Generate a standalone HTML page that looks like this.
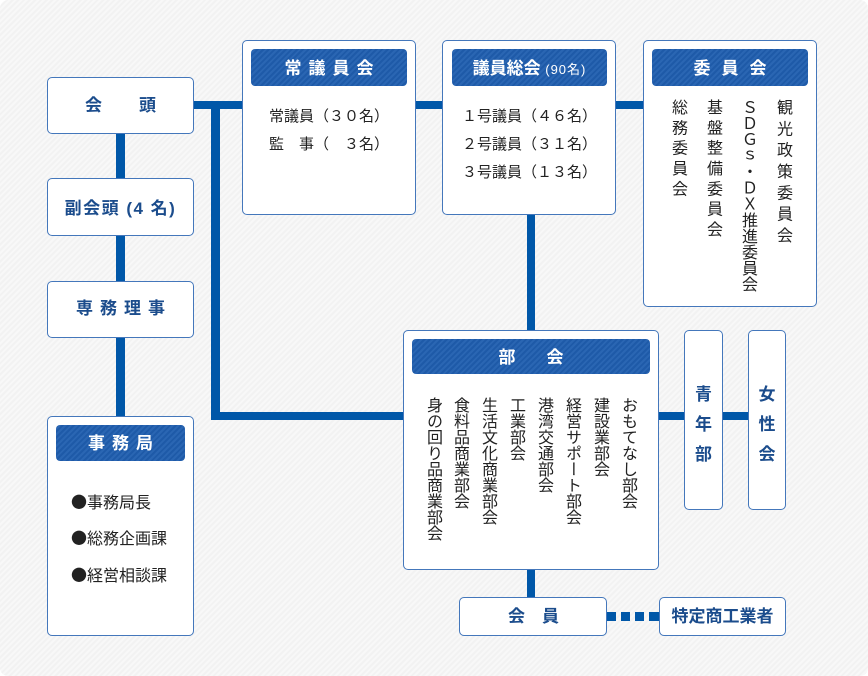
<!DOCTYPE html>
<html><head><meta charset="utf-8">
<style>
html,body{margin:0;padding:0;}
body{width:868px;height:676px;background:#fff;position:relative;overflow:hidden;font-family:"Liberation Sans","Noto Sans CJK JP",sans-serif;}
#bg{position:absolute;left:0;top:0;width:868px;height:676px;border-radius:8px;
background:repeating-linear-gradient(135deg,#f2f2f2 0px,#f2f2f2 2px,#f8f8f8 2px,#f8f8f8 4px);}
.box{position:absolute;box-sizing:border-box;background:#fff;border:1.5px solid #4477bb;border-radius:5px;}
.hd{position:absolute;box-sizing:border-box;border-radius:4px;color:#fff;font-weight:bold;font-size:17px;text-align:center;
background:repeating-linear-gradient(135deg,#1e5aa8 0px,#1e5aa8 2px,#2a66b3 2px,#2a66b3 4px);}
.ln{position:absolute;background:#0057a8;}
.bt{position:absolute;color:#1b4c8c;font-weight:bold;font-size:17px;text-align:center;white-space:nowrap;}
.tx{position:absolute;color:#222;font-size:15px;white-space:nowrap;}
.bl{font-family:"Noto Sans CJK JP",sans-serif;font-size:16px;}
.v{position:absolute;writing-mode:vertical-rl;text-orientation:upright;font-size:16px;line-height:16px;color:#222;white-space:nowrap;}
</style></head><body>
<div id="bg"></div>

<!-- connectors -->
<div class="ln" style="left:116px;top:134px;width:9px;height:44px"></div>
<div class="ln" style="left:116px;top:236px;width:9px;height:45px"></div>
<div class="ln" style="left:116px;top:338px;width:9px;height:78px"></div>
<div class="ln" style="left:194px;top:101px;width:48px;height:8px"></div>
<div class="ln" style="left:211px;top:101px;width:9px;height:319px"></div>
<div class="ln" style="left:211px;top:412px;width:192px;height:8px"></div>
<div class="ln" style="left:416px;top:101px;width:26px;height:8px"></div>
<div class="ln" style="left:616px;top:101px;width:27px;height:8px"></div>
<div class="ln" style="left:527px;top:215px;width:8px;height:115px"></div>
<div class="ln" style="left:527px;top:570px;width:8px;height:27px"></div>
<div class="ln" style="left:659px;top:412px;width:25px;height:8px"></div>
<div class="ln" style="left:723px;top:412px;width:25px;height:8px"></div>
<div class="ln" style="left:607px;top:612px;width:9px;height:9px"></div>
<div class="ln" style="left:621px;top:612px;width:9px;height:9px"></div>
<div class="ln" style="left:635px;top:612px;width:9px;height:9px"></div>
<div class="ln" style="left:649px;top:612px;width:10px;height:9px"></div>

<!-- left column -->
<div class="box" style="left:47px;top:77px;width:147px;height:57px"></div>
<div class="bt" style="left:85px;top:95px;width:17px;line-height:22px">会</div>
<div class="bt" style="left:139px;top:95px;width:17px;line-height:22px">頭</div>

<div class="box" style="left:47px;top:178px;width:147px;height:58px"></div>
<div class="bt" style="left:47px;top:197px;width:147px;line-height:24px;letter-spacing:1.5px">副会頭 (4 名)</div>

<div class="box" style="left:47px;top:281px;width:147px;height:57px"></div>
<div class="bt" style="left:47px;top:297px;width:147px;line-height:24px;letter-spacing:7px;padding-left:7px;box-sizing:border-box">専務理事</div>

<div class="box" style="left:47px;top:416px;width:147px;height:220px"></div>
<div class="hd" style="left:56px;top:425px;width:129px;height:36px;line-height:38px;letter-spacing:7px;padding-left:7px">事務局</div>
<div class="tx" style="left:71px;top:489px;font-size:16px;line-height:24px"><span class="bl">●</span>事務局長</div>
<div class="tx" style="left:71px;top:525px;font-size:16px;line-height:24px"><span class="bl">●</span>総務企画課</div>
<div class="tx" style="left:71px;top:562px;font-size:16px;line-height:24px"><span class="bl">●</span>経営相談課</div>

<!-- 常議員会 -->
<div class="box" style="left:242px;top:40px;width:174px;height:175px"></div>
<div class="hd" style="left:251px;top:49px;width:156px;height:37px;line-height:40px;letter-spacing:7px;padding-left:7px">常議員会</div>
<div class="tx" style="left:269px;top:105px;line-height:24px">常議員（３０名）</div>
<div class="tx" style="left:269px;top:133px;line-height:24px">監　事（　３名）</div>

<!-- 議員総会 -->
<div class="box" style="left:442px;top:40px;width:174px;height:175px"></div>
<div class="hd" style="left:452px;top:49px;width:155px;height:37px;line-height:40px">議員総会<span style="font-size:13px;font-weight:normal;letter-spacing:1px"> (90名)</span></div>
<div class="tx" style="left:462px;top:105px;line-height:24px">１号議員（４６名）</div>
<div class="tx" style="left:462px;top:133px;line-height:24px">２号議員（３１名）</div>
<div class="tx" style="left:462px;top:161px;line-height:24px">３号議員（１３名）</div>

<!-- 委員会 -->
<div class="box" style="left:643px;top:40px;width:174px;height:267px"></div>
<div class="hd" style="left:652px;top:49px;width:156px;height:37px;line-height:40px;letter-spacing:11px;padding-left:11px">委員会</div>
<div class="v" style="left:669px;top:99px;letter-spacing:4.3px">総務委員会</div>
<div class="v" style="left:704px;top:99px;letter-spacing:4.3px">基盤整備委員会</div>
<div class="v" style="left:739px;top:99px;letter-spacing:0.1px">ＳＤＧｓ・ＤＸ推進委員会</div>
<div class="v" style="left:774px;top:99px;letter-spacing:5.3px">観光政策委員会</div>

<!-- 部会 -->
<div class="box" style="left:403px;top:330px;width:256px;height:240px"></div>
<div class="hd" style="left:412px;top:339px;width:238px;height:35px;line-height:37px;letter-spacing:31px;padding-left:31px">部会</div>
<div class="v" style="left:619px;top:397px">おもてなし部会</div>
<div class="v" style="left:591px;top:397px">建設業部会</div>
<div class="v" style="left:563px;top:397px">経営サポート部会</div>
<div class="v" style="left:535px;top:397px">港湾交通部会</div>
<div class="v" style="left:507px;top:397px">工業部会</div>
<div class="v" style="left:479px;top:397px">生活文化商業部会</div>
<div class="v" style="left:451px;top:397px">食料品商業部会</div>
<div class="v" style="left:424px;top:397px">身の回り品商業部会</div>

<!-- 青年部 / 女性会 -->
<div class="box" style="left:684px;top:330px;width:39px;height:180px"></div>
<div class="bt" style="left:684px;top:380px;width:39px;line-height:30px">青<br>年<br>部</div>
<div class="box" style="left:748px;top:330px;width:38px;height:180px"></div>
<div class="bt" style="left:748px;top:380px;width:38px;line-height:30px">女<br>性<br>会</div>

<!-- 会員 -->
<div class="box" style="left:459px;top:597px;width:148px;height:39px"></div>
<div class="bt" style="left:508px;top:605px;width:17px;line-height:24px">会</div>
<div class="bt" style="left:542px;top:605px;width:17px;line-height:24px">員</div>
<div class="box" style="left:659px;top:597px;width:127px;height:39px"></div>
<div class="bt" style="left:659px;top:605px;width:127px;line-height:24px">特定商工業者</div>
</body></html>
